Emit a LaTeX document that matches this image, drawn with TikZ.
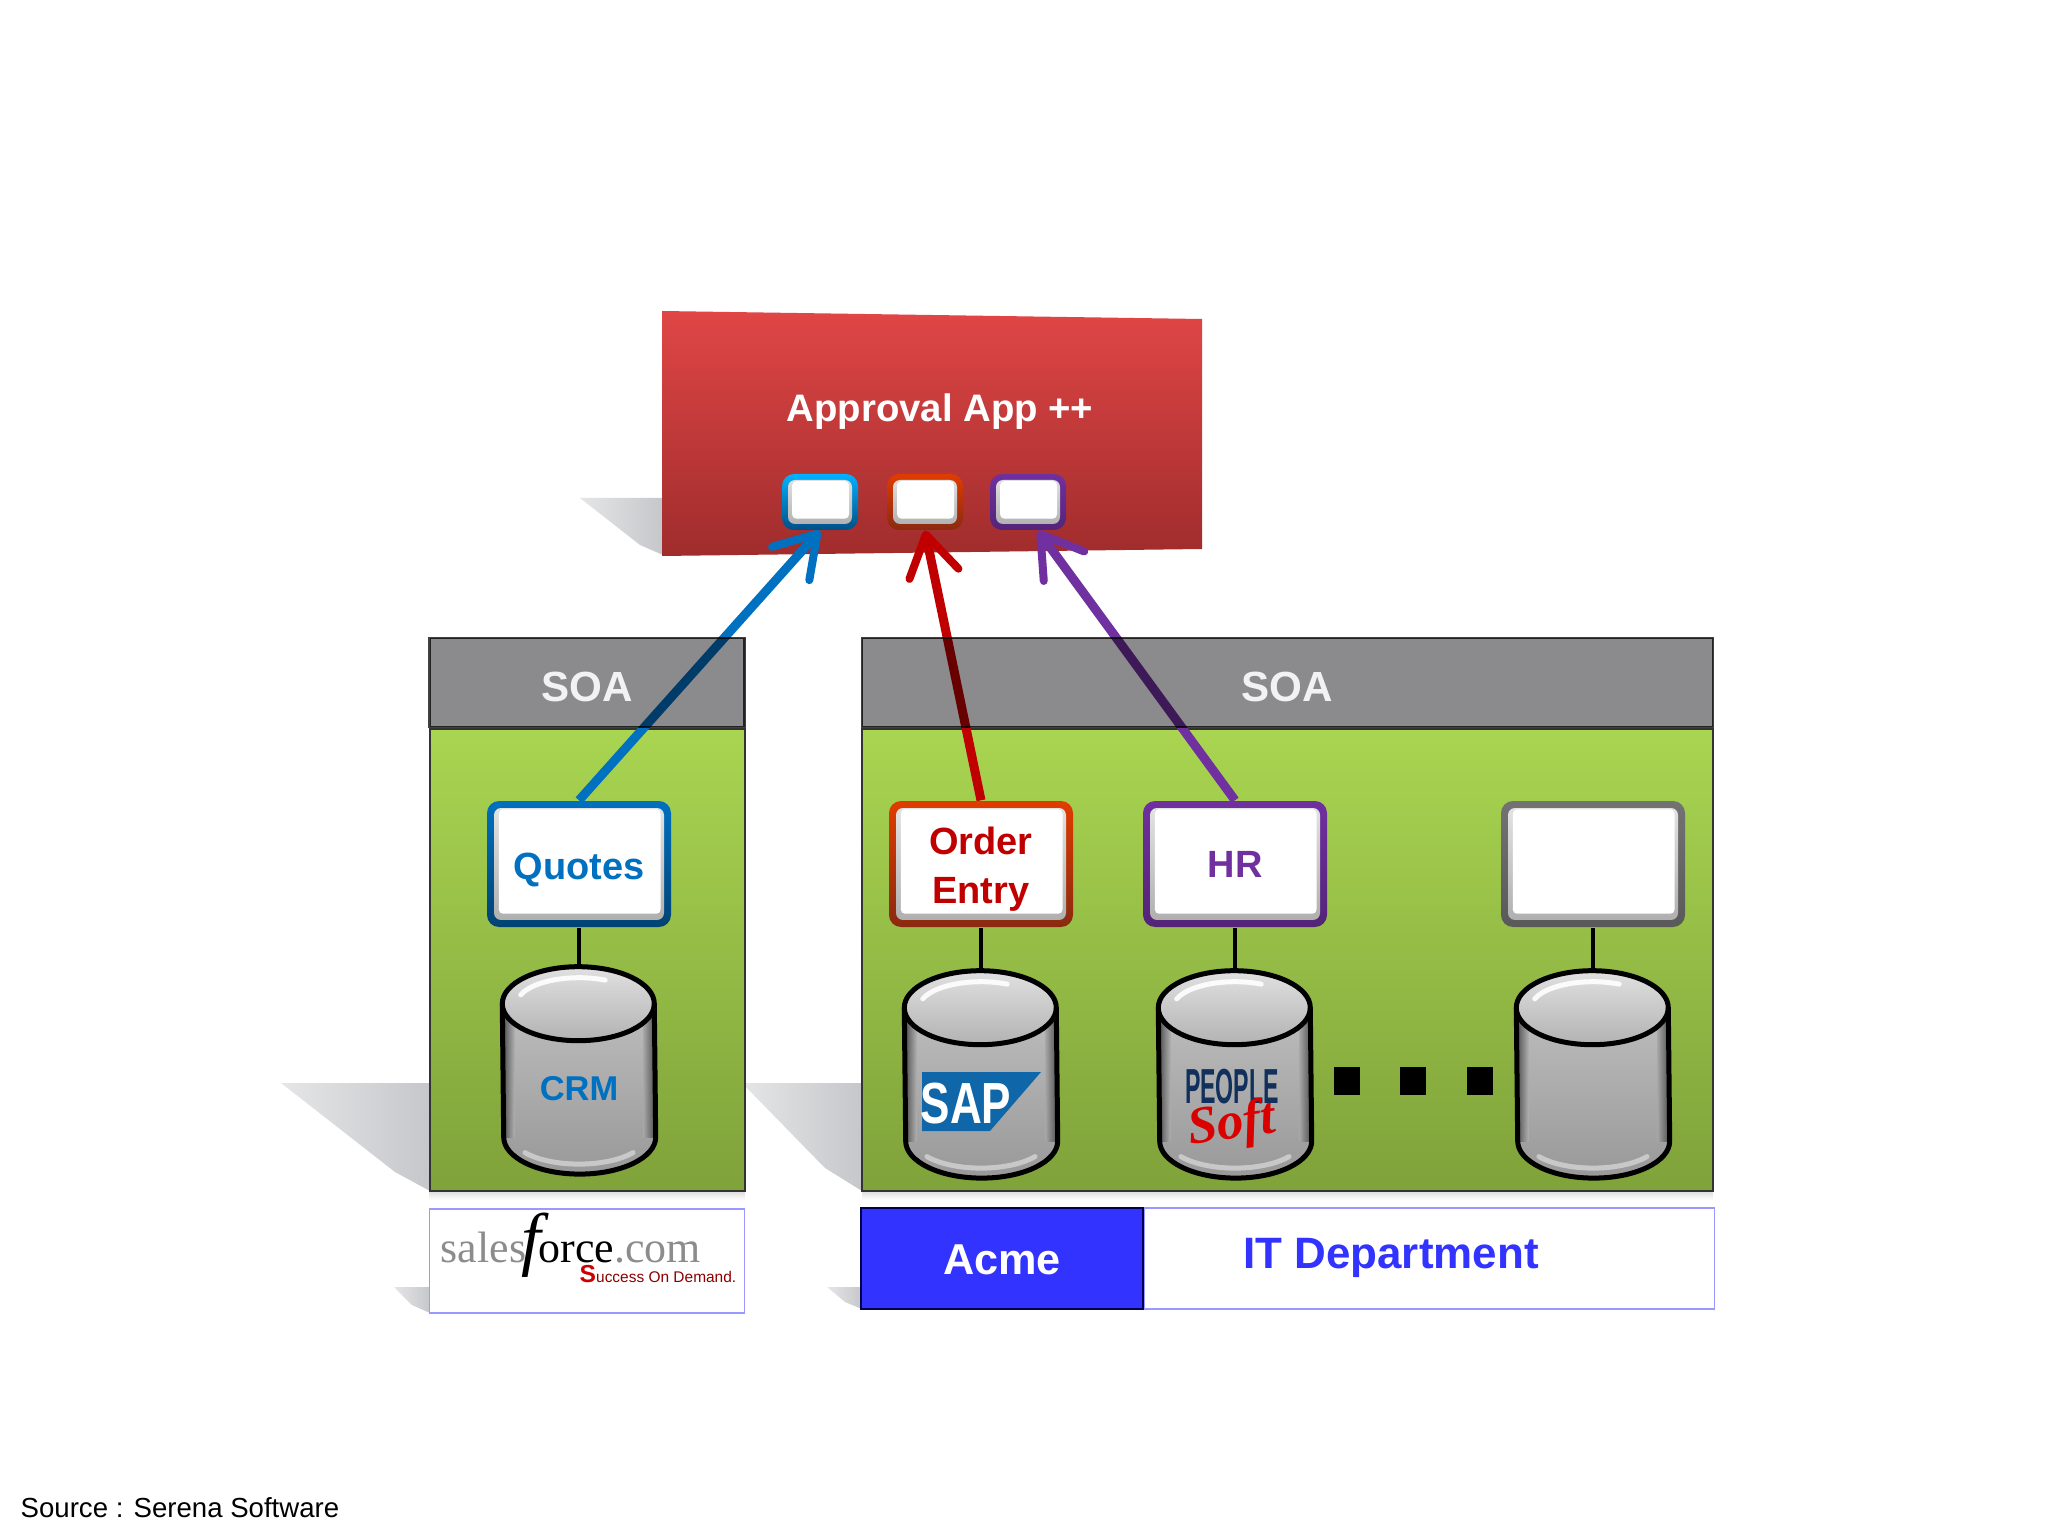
\documentclass[tikz,border=0pt]{standalone}
\usepackage{fontspec}
\setmainfont{Liberation Sans}
\newfontfamily\logofont{Liberation Serif}
\usetikzlibrary{shapes.geometric, arrows.meta, positioning, calc}

\definecolor{quoteblue}{HTML}{0070C0}
\definecolor{orderred}{HTML}{C00000}
\definecolor{hrpurple}{HTML}{7030A0}
\definecolor{acmeblue}{HTML}{3333FF}
\definecolor{thinblue}{HTML}{9999FF}
\definecolor{soagray}{HTML}{8B8A8D}
\definecolor{shadowgray}{HTML}{C6C7CA}
\definecolor{sapblue}{HTML}{0F66A8}
\definecolor{psnavy}{HTML}{12305C}
\definecolor{panelhi}{HTML}{A9D551}
\definecolor{panello}{HTML}{7FA23A}
\definecolor{approvalhi}{HTML}{E04646}
\definecolor{approvallo}{HTML}{A02C2C}
\definecolor{orangehi}{HTML}{E03C00}
\definecolor{orangelo}{HTML}{8A2A10}
\newcommand{\fsz}[2]{\fontsize{#1}{#2}\selectfont}
\tikzset{endcap/.style={x radius=.76cm, y radius=.37cm}}
% cylinder drawn over the (invisible) node named #1
\newcommand{\dbbody}[1]{
    \shade[top color=black!26, bottom color=black!40] ([yshift=-.37cm]#1.north west) -- ([yshift=-.37cm]#1.north east) -- ([yshift=.37cm]#1.south east) arc[start angle=0, end angle=-180, endcap] -- cycle;
    \shade[left color=black!70, right color=black!32] ([yshift=-.37cm]#1.north west) rectangle ([shift={(.12cm,.37cm)}]#1.south west);
    \shade[left color=black!36, right color=black!70] ([shift={(-.12cm,-.37cm)}]#1.north east) rectangle ([yshift=.37cm]#1.south east);
    \draw[white, opacity=.45, line width=.05cm, line cap=round] ([yshift=.37cm]#1.south) ++(215:.66cm and .27cm) arc[start angle=215, end angle=325, x radius=.66cm, y radius=.27cm];
    \shade[top color=black!12, bottom color=black!30] ([yshift=-.37cm]#1.north) ellipse [endcap];
    \draw[white, opacity=.9, line width=.05cm, line cap=round] ([yshift=-.37cm]#1.north) ++(160:.62cm and .26cm) arc[start angle=160, end angle=65, x radius=.62cm, y radius=.26cm];
    \draw[black, line width=.05cm] ([yshift=-.37cm]#1.north west) arc[start angle=180, end angle=0, endcap] -- ([yshift=.37cm]#1.south east) arc[start angle=0, end angle=-180, endcap] -- cycle;
    \draw[black, line width=.05cm] ([yshift=-.37cm]#1.north west) arc[start angle=180, end angle=360, endcap];
}

\begin{document}
\begin{tikzpicture}[x=1cm, y=-1cm,
    gloss/.style 2 args={top color=#1, bottom color=#2, rounded corners=.12cm, inner sep=0pt},
    bevel/.style={path picture={
        \shade[top color=gray!20, bottom color=gray!65, rounded corners=.07cm]
            ([shift={(#1,#1)}]path picture bounding box.north west) rectangle
            ([shift={(-#1,-#1)}]path picture bounding box.south east);
        \fill[white, rounded corners=.04cm]
            ([shift={({#1*1.7},{#1*1.2})}]path picture bounding box.north west) rectangle
            ([shift={({-#1*1.5},{-#1*1.9})}]path picture bounding box.south east);}},
    app/.style 2 args={gloss={#1}{#2}, bevel=.07, minimum width=1.84cm, minimum height=1.26cm, align=center, font=\fsz{10.8}{13.7}\bfseries},
    port/.style 2 args={gloss={#1}{#2}, bevel=.06, minimum width=.76cm, minimum height=.56cm},
    panel/.style={rectangle, draw=black!80, line width=.02cm, top color=panelhi, bottom color=panello, inner sep=0pt, minimum height=4.62cm},
    soahead/.style={rectangle, draw=black!75, line width=.025cm, fill=soagray, inner sep=0pt, minimum height=.89cm},
    soatext/.style={text=white!95!black, font=\fsz{12}{12}\bfseries, yshift=-.05cm},
    db/.style={rectangle, inner sep=0pt, minimum width=1.52cm, minimum height=2.06cm},
    dbline/.style={draw=black, line width=.04cm},
    dot/.style={rectangle, fill=black, inner sep=0pt, minimum width=.26cm, minimum height=.28cm},
    shadow/.style={left color=shadowgray!45, right color=shadowgray},
    flow/.style={line width=.09cm, -{Straight Barb[length=.40cm, width=.50cm, round, line width=.08cm]}}]

    \useasboundingbox (0,0) rectangle (20.48,15.36);
    \fill[white] (0,0) rectangle (20.48,15.36);

    % shadows
    \shade[shadow] (2.81,10.83) -- (4.30,10.83) -- (4.30,11.91) -- (3.95,11.72) -- cycle;
    \shade[shadow] (7.42,10.83) -- (8.62,10.83) -- (8.62,11.91) -- (8.25,11.68) -- cycle;
    \shade[shadow] (5.80,4.98) -- (6.63,4.98) -- (6.63,5.55) -- (6.40,5.45) -- cycle;
    \shade[shadow] (3.94,12.87) -- (4.30,12.87) -- (4.30,13.13) -- (4.12,13.05) -- cycle;
    \shade[shadow] (8.27,12.87) -- (8.62,12.87) -- (8.62,13.09) -- (8.45,13.02) -- cycle;
    \shade[top color=black!12, bottom color=white] (4.29,11.92) rectangle (7.45,12.00);
    \shade[top color=black!12, bottom color=white] (8.62,11.92) rectangle (17.13,12.00);

    % approval app
    \shade[top color=approvalhi, bottom color=approvallo] (6.62,3.11) -- (12.02,3.19) -- (12.02,5.49) -- (6.62,5.56) -- cycle;
    \node (approval) [text=white, font=\fsz{10.9}{10.9}\bfseries] at (9.40,4.12) {Approval App ++};
    \node (port1) [port={cyan!70!blue}{quoteblue!70!black}] at (8.20,5.02) {};
    \node (port2) [port={orangehi}{orangelo}] at (9.25,5.02) {};
    \node (port3) [port={hrpurple}{hrpurple!75!black}] at (10.28,5.02) {};

    % green panels
    \node (greenA) [panel, minimum width=3.15cm] at (5.87,9.60) {};
    \node (greenB) [panel, minimum width=8.51cm] at (12.875,9.60) {};

    % applications
    \node (quotes) [app={quoteblue}{quoteblue!60!black}, text=quoteblue, text height=.31cm, text depth=0pt] at (5.79,8.64) {Quotes};
    \node (order) [app={orangehi}{orangelo}, text=orderred] at (9.81,8.64) {\rule{0pt}{.38cm}Order\\Entry};
    \node (hr) [app={hrpurple}{hrpurple!75!black}, text=hrpurple] at (12.35,8.64) {HR};
    \node (blank) [app={black!55}{black!65}] at (15.93,8.64) {};

    % databases
    \node (crmdb) [db, below=.39cm of quotes] {};
    \node (sapdb) [db, below=.43cm of order] {};
    \node (psdb) [db, below=.43cm of hr] {};
    \node (blankdb) [db, below=.43cm of blank] {};
    \draw [dbline] (quotes) -- (crmdb);
    \draw [dbline] (order) -- (sapdb);
    \draw [dbline] (hr) -- (psdb);
    \draw [dbline] (blank) -- (blankdb);
    \dbbody{crmdb}
    \dbbody{sapdb}
    \dbbody{psdb}
    \dbbody{blankdb}

    % labels on the databases
    \node (crm) [text=quoteblue, font=\fsz{9.8}{9.8}\bfseries] at (5.79,10.89) {CRM};
    \fill[sapblue] (9.22,10.72) -- (10.41,10.72) -- (9.90,11.31) -- (9.22,11.31) -- cycle;
    \node (sap) [text=white, font=\fsz{16.5}{16.5}\bfseries, inner sep=0pt] at (9.66,11.04) {\scalebox{.76}[1]{SAP}};
    \node (psname) [text=psnavy, font=\fsz{14}{14}\bfseries, inner sep=0pt] at (12.32,10.87) {\scalebox{.47}[1]{PEOPLE}};
    \node (pssoft) [text=red!85!black, font=\logofont\fsz{15}{15}\bfseries\itshape, inner sep=0pt, rotate=8] at (12.32,11.26) {Soft};

    \node (dot1) [dot] at (13.47,10.81) {};
    \node (dot2) [dot] at (14.13,10.81) {};
    \node (dot3) [dot] at (14.80,10.81) {};

    % service arrows
    \draw [flow, quoteblue] (quotes.north) -- (port1.south);
    \draw [flow, orderred] (order.north) -- (port2.south);
    \draw [flow, hrpurple] (hr.north) -- ([xshift=.10cm]port3.south);

    % soa headers
    \begin{scope}[blend mode=multiply]
        \node (headA) [soahead, minimum width=3.15cm, above=0cm of greenA] {};
        \node (headB) [soahead, minimum width=8.51cm, above=0cm of greenB] {};
    \end{scope}
    \node (soaA) [soatext] at (headA) {SOA};
    \node (soaB) [soatext] at (headB) {SOA};

    % owners
    \node (sfbox) [rectangle, draw=thinblue, line width=.015cm, fill=white, minimum width=3.15cm, minimum height=1.04cm, below=.16cm of greenA] {};
    \node (sfname) [text=black!45, font=\logofont\fsz{12.5}{12.5}, inner sep=0pt, anchor=base west] at (4.40,12.62) {sales\kern-.05cm\textcolor{black}{\smash{\itshape\fsz{20}{20}f}}\kern-.02cm\textcolor{black}{orce}.com};
    \node (sftag) [text=red!55!black, font=\fsz{4.4}{4.4}, inner sep=0pt] at (6.58,12.74) {\textcolor{red!80!black}{\bfseries\fsz{7}{7}S}uccess On Demand.};
    \node (acme) [rectangle, draw=black!70!blue, line width=.015cm, fill=acmeblue, text=white, font=\fsz{12.3}{12.3}\bfseries, minimum width=2.82cm, minimum height=1.01cm, text height=.31cm, text depth=0pt] at (10.02,12.585) {Acme};
    \node (dept) [rectangle, draw=thinblue, line width=.015cm, minimum width=5.70cm, minimum height=1.01cm, right=0cm of acme] {};
    \node (deptname) [text=acmeblue, font=\fsz{12.5}{12.5}\bfseries] at (13.91,12.58) {IT Department};

    \node (source) [font=\fsz{7.85}{7.85}, inner sep=0pt, anchor=west] at (.20,15.08) {Source : Serena Software};
\end{tikzpicture}
\end{document}
